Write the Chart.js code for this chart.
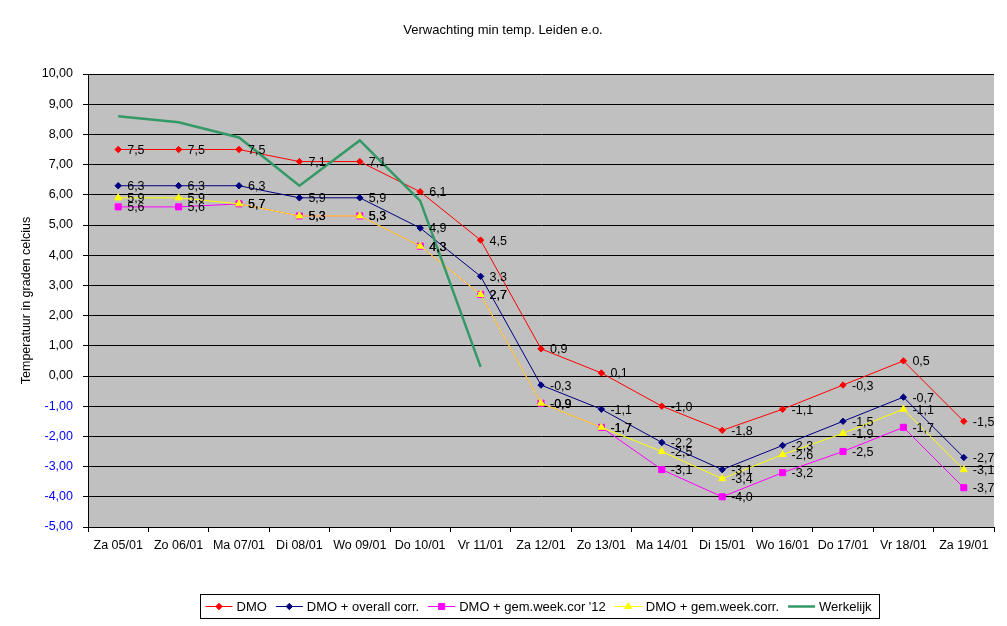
<!DOCTYPE html>
<html>
<head>
<meta charset="utf-8">
<title>Verwachting min temp. Leiden e.o.</title>
<script src="https://cdn.jsdelivr.net/npm/chart.js@4/dist/chart.umd.min.js"></script>
<style>
  body { margin: 0; background: #fff; }
  canvas { display: block; }
</style>
</head>
<body>
<canvas id="canvas" width="1007" height="626"></canvas>
<script>
// data
const categories = ["Za 05/01", "Zo 06/01", "Ma 07/01", "Di 08/01", "Wo 09/01", "Do 10/01", "Vr 11/01",
  "Za 12/01", "Zo 13/01", "Ma 14/01", "Di 15/01", "Wo 16/01", "Do 17/01", "Vr 18/01", "Za 19/01"];

const seriesNames = ["DMO", "DMO + overall corr.", "DMO + gem.week.cor '12", "DMO + gem.week.corr.", "Werkelijk"];

const dmo = [7.5, 7.5, 7.5, 7.1, 7.1, 6.1, 4.5, 0.9, 0.1, -1.0, -1.8, -1.1, -0.3, 0.5, -1.5];
const dmoOverall = [6.3, 6.3, 6.3, 5.9, 5.9, 4.9, 3.3, -0.3, -1.1, -2.2, -3.1, -2.3, -1.5, -0.7, -2.7];
const dmoWeek12 = [5.6, 5.6, 5.7, 5.3, 5.3, 4.3, 2.7, -0.9, -1.7, -3.1, -4.0, -3.2, -2.5, -1.7, -3.7];
const dmoWeek = [5.9, 5.9, 5.7, 5.3, 5.3, 4.3, 2.7, -0.9, -1.7, -2.5, -3.4, -2.6, -1.9, -1.1, -3.1];
const werkelijk = [8.6, 8.4, 7.9, 6.3, 7.8, 5.8, 0.3, null, null, null, null, null, null, null, null];

const yMin = -5;
const yMax = 10;
const yStep = 1;

const FONT = "'Liberation Sans', Arial, sans-serif";

function comma(v, d) {
  return v.toFixed(d).replace(".", ",");
}

let canvas = document.getElementById("canvas");
let ctx = canvas.getContext("2d");

// gray plot area + title
let plotBack = {
  id: "plotBack",
  beforeDraw(chart) {
    let c = chart.ctx;
    let a = chart.chartArea;
    c.save();
    c.fillStyle = "#c0c0c0";
    c.fillRect(a.left, a.top, a.right - a.left, a.bottom - a.top);
    c.fillStyle = "#000";
    c.font = "13px " + FONT;
    c.textAlign = "center";
    c.textBaseline = "alphabetic";
    c.fillText("Verwachting min temp. Leiden e.o.", 503, 34);
    c.restore();
  },
};

// value labels right of each marker (not for Werkelijk)
let valueLabels = {
  id: "valueLabels",
  afterDatasetsDraw(chart) {
    let c = chart.ctx;
    c.save();
    c.font = "12.5px " + FONT;
    c.fillStyle = "#000";
    c.textAlign = "left";
    c.textBaseline = "middle";
    for (let i = 0; i < 4; i++) {
      let meta = chart.getDatasetMeta(i);
      let vals = chart.data.datasets[i].data;
      meta.data.forEach((pt, j) => {
        if (vals[j] === null) return;
        c.fillText(comma(vals[j], 1), pt.x + 9, pt.y + 1);
      });
    }
    c.restore();
  },
};

function marker(c, ds, x, y) {
  if (!ds.pointRadius) return;
  c.fillStyle = ds.pointBackgroundColor;
  c.strokeStyle = ds.pointBorderColor;
  c.lineWidth = 1;
  Chart.helpers.drawPoint(c, { pointStyle: ds.pointStyle, radius: ds.pointRadius, rotation: 0, borderWidth: 1 }, x, y);
}

// excel style legend: line with marker, boxed
let legendBox = {
  id: "legendBox",
  afterDraw(chart) {
    let c = chart.ctx;
    c.save();
    c.font = "13px " + FONT;
    let widths = seriesNames.map((n) => c.measureText(n).width);
    let lineLen = 27, gapText = 4, gapItem = 9, padL = 5, padR = 8;
    let total = padL + padR;
    widths.forEach((w, i) => {
      total += lineLen + gapText + w + (i < widths.length - 1 ? gapItem : 0);
    });
    let left = Math.round(540 - total / 2) + 0.5;
    let top = 594.5;
    let h = 24;
    c.strokeStyle = "#000";
    c.lineWidth = 1;
    c.strokeRect(left, top, Math.round(total), h);
    let x = left + padL;
    let y = top + h / 2;
    chart.data.datasets.forEach((ds, i) => {
      c.strokeStyle = ds.borderColor;
      c.lineWidth = ds.borderWidth;
      c.beginPath();
      c.moveTo(x, y);
      c.lineTo(x + lineLen, y);
      c.stroke();
      marker(c, ds, x + lineLen / 2, y);
      c.fillStyle = "#000";
      c.textAlign = "left";
      c.textBaseline = "middle";
      c.fillText(seriesNames[i], x + lineLen + gapText, y + 1);
      x += lineLen + gapText + widths[i] + gapItem;
    });
    c.restore();
  },
};

function serie(name, data, color, style, radius, width, order) {
  return {
    label: name,
    data: data,
    borderColor: color,
    backgroundColor: color,
    borderWidth: width,
    pointStyle: style,
    pointRadius: radius,
    pointBackgroundColor: color,
    pointBorderColor: color,
    pointBorderWidth: 1,
    tension: 0,
    spanGaps: false,
    order: order,
  };
}

let chart = new Chart(ctx, {
  type: "line",
  data: {
    labels: categories,
    datasets: [
      serie(seriesNames[0], dmo, "#ff0000", "rectRot", 3.2, 1, 5),
      serie(seriesNames[1], dmoOverall, "#000080", "rectRot", 3.2, 1, 4),
      serie(seriesNames[2], dmoWeek12, "#ff00ff", "rect", 4.3, 1, 3),
      serie(seriesNames[3], dmoWeek, "#ffff00", "triangle", 4, 1, 2),
      serie(seriesNames[4], werkelijk, "#339966", false, 0, 2.5, 1),
    ],
  },
  options: {
    responsive: false,
    animation: false,
    devicePixelRatio: 1,
    events: [],
    layout: {
      padding: { top: 74, left: 0, right: 13, bottom: 69 },
    },
    plugins: {
      legend: { display: false },
      title: { display: false },
      tooltip: { enabled: false },
    },
    scales: {
      x: {
        offset: true,
        grid: {
          offset: true,
          drawOnChartArea: false,
          color: "#000",
          tickLength: 5,
        },
        border: { color: "#000", width: 1 },
        ticks: {
          color: "#000",
          font: { family: FONT, size: 12.5 },
          padding: 6,
          maxRotation: 0,
          autoSkip: false,
        },
        afterFit(scale) {
          scale.height = 30;
        },
      },
      y: {
        min: yMin,
        max: yMax,
        grid: {
          color: "#000",
          tickLength: 5,
        },
        border: { color: "#000", width: 1 },
        ticks: {
          stepSize: yStep,
          padding: 10,
          font: { family: FONT, size: 12.5 },
          color: (c) => (c.tick && c.tick.value < 0 ? "#0000ff" : "#000"),
          callback: (v) => comma(v, 2),
        },
        title: {
          display: true,
          text: "Temperatuur in graden celcius",
          color: "#000",
          font: { family: FONT, size: 12.5 },
          padding: { top: 19, bottom: 0 },
        },
        afterFit(scale) {
          scale.width = 88;
        },
      },
    },
  },
  plugins: [plotBack, valueLabels, legendBox],
});
</script>
</body>
</html>
